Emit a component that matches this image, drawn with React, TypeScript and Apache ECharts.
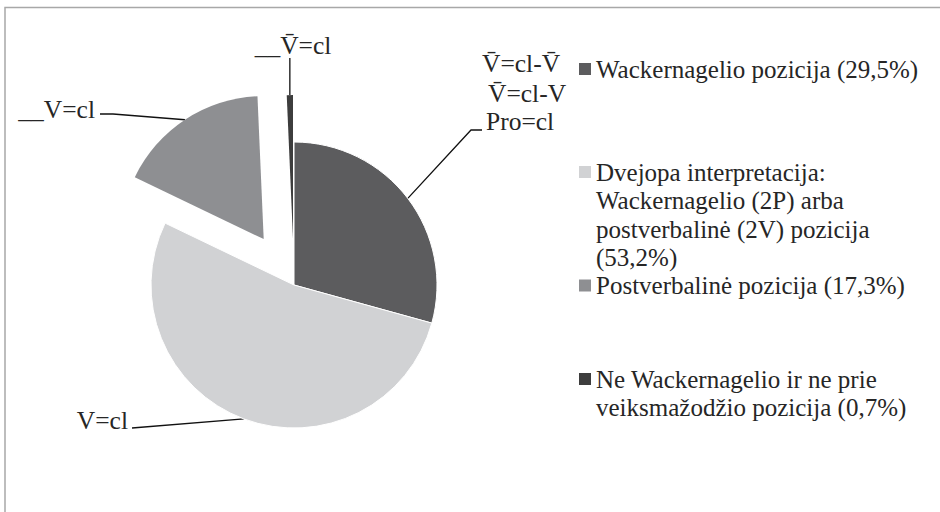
import React, { useEffect, useRef } from "react";
import * as echarts from "echarts";

// ---- data ----
const categories = [
  "Wackernagelio pozicija (29,5%)",
  "Dvejopa interpretacija:\nWackernagelio (2P) arba\npostverbalinė (2V) pozicija\n(53,2%)",
  "Postverbalinė pozicija (17,3%)",
  "Ne Wackernagelio ir ne prie\nveiksmažodžio pozicija (0,7%)",
];
const values = [29.5, 53.2, 17.3, 0.7];
const sliceLabels = ["Pro=cl", "V=cl", "__V=cl", "__V\u0304=cl"];
const extraLabels = ["V\u0304=cl-V\u0304", "V\u0304=cl-V"];

// ---- styling / layout ----
const COLORS = ["#5c5c5e", "#d1d2d4", "#8e8f92", "#3d3d3d"];
const CENTER = [294, 285];
const RADIUS = 143;
const EXPLODE = [0, 0, 55, 47];
const GROUPS = [[0, 1], [2], [3]];
const FONT = "Liberation Serif";
const TEXT_COLOR = "#262626";
const LABEL_SIZE = 25.5;
const LEGEND_SIZE = 25;
const LEGEND_LH = 28.6;
const LEGEND_FIRST_CENTER = [69, 172, 285.5, 379];
const LEGEND_LEFT = 579;

const LABEL_LAYOUT: any[] = [
  { x: 486, y: 121.5, align: "left", line: [[471, 130], [482, 130]] },
  { x: 128, y: 420, align: "right", line: [[132, 428]] },
  { x: 95, y: 109, align: "right", line: [[113, 114], [100, 114]] },
  { x: 293, y: 45, align: "center", lineTopY: 58 },
];
const EXTRA_POS = [
  { x: 482, y: 63.5 },
  { x: 488, y: 93.5 },
];

export default function App() {
  const ref = useRef<HTMLDivElement>(null);
  useEffect(() => {
    if (!ref.current) return;
    const chart = echarts.init(ref.current, undefined, { renderer: "svg" });

    const total = values.reduce((a, b) => a + b, 0);
    let cum = 0;
    const mids = values.map((v) => {
      const m = ((cum + v / 2) / total) * 2 * Math.PI;
      cum += v;
      return m;
    });

    const labelLayout = (params: any) => {
      const a = LABEL_LAYOUT[params.dataIndex];
      if (!a || !params.labelLinePoints) return {};
      const p0 = params.labelLinePoints[0];
      const line = a.line ? a.line : [[p0[0], a.lineTopY]];
      return {
        x: a.x,
        y: a.y,
        align: a.align,
        verticalAlign: "middle",
        labelLinePoints: [p0, ...line],
      };
    };

    const series = GROUPS.map((members) => {
      const lead = members[0];
      const off = EXPLODE[lead];
      const cx = CENTER[0] + off * Math.sin(mids[lead]);
      const cy = CENTER[1] - off * Math.cos(mids[lead]);
      const isBase = members.length > 1;
      return {
        type: "pie",
        silent: true,
        radius: RADIUS,
        center: [cx, cy],
        startAngle: 90,
        clockwise: true,
        avoidLabelOverlap: false,
        emphasis: { disabled: true },
        labelLayout,
        data: values.map((v, i) => {
          const vis = members.includes(i);
          return {
            name: categories[i],
            value: v,
            itemStyle: vis
              ? { color: COLORS[i], borderColor: "#ffffff", borderWidth: isBase ? 1 : 0 }
              : { color: "rgba(0,0,0,0)", borderWidth: 0 },
            label: {
              show: vis,
              position: "outside",
              formatter: () => sliceLabels[i],
              fontFamily: FONT,
              fontSize: LABEL_SIZE,
              color: TEXT_COLOR,
            },
            labelLine: {
              show: vis,
              length: 10,
              length2: 10,
              lineStyle: { color: "#111111", width: 1.3 },
            },
          };
        }),
      };
    });

    const legends = categories.map((name, i) => {
      const n = name.split("\n").length;
      const top = LEGEND_FIRST_CENTER[i] - ((2 * n - 1) * LEGEND_LH) / 2;
      return {
        show: true,
        orient: "vertical",
        left: LEGEND_LEFT,
        top,
        padding: 0,
        itemWidth: 12,
        itemHeight: 12,
        itemGap: 0,
        selectedMode: false,
        icon: "rect",
        // leading blank lines keep the first text line level with the icon
        formatter: (nm: string) => "\n".repeat(n - 1) + nm,
        data: [{ name, itemStyle: { color: COLORS[i], borderWidth: 0 } }],
        textStyle: {
          fontFamily: FONT,
          fontSize: LEGEND_SIZE,
          color: TEXT_COLOR,
          lineHeight: LEGEND_LH,
        },
      };
    });

    chart.setOption({
      animation: false,
      backgroundColor: "#ffffff",
      legend: legends,
      series,
      graphic: [
        {
          type: "rect",
          shape: { x: 5, y: 7.5, width: 1000, height: 1000 },
          style: { fill: "none", stroke: "#a8a8a8", lineWidth: 1.5 },
          silent: true,
        },
        ...extraLabels.map((t, i) => ({
          type: "text",
          x: EXTRA_POS[i].x,
          y: EXTRA_POS[i].y,
          silent: true,
          style: {
            text: t,
            fontFamily: FONT,
            fontSize: LABEL_SIZE,
            fill: TEXT_COLOR,
            align: "left",
            verticalAlign: "middle",
          },
        })),
      ],
    });

    return () => chart.dispose();
  }, []);

  return (
    <div
      ref={ref}
      style={{ position: "fixed", left: 0, top: 0, width: 940, height: 512, background: "#fff" }}
    />
  );
}
